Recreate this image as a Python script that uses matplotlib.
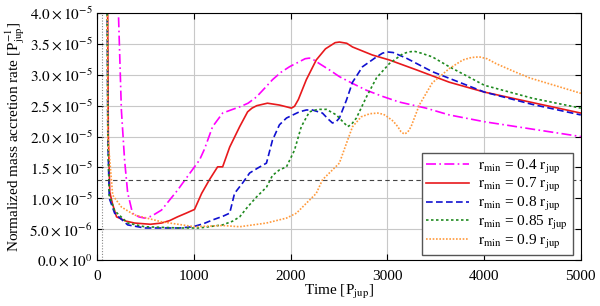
import math

import matplotlib
matplotlib.use("Agg")
import matplotlib.pyplot as plt
from matplotlib.ticker import FuncFormatter

plt.rcParams["font.family"] = "Liberation Serif"
plt.rcParams["mathtext.fontset"] = "stix"

# values in units of 1e-5, time in P_jup
t_04 = [200, 250, 283, 315, 365, 430, 490, 560, 665, 830, 955, 1058, 1110, 1193, 1297,
        1400, 1473, 1560, 1646, 1730, 1812, 1900, 1988, 2100, 2150, 2194, 2240, 2298,
        2400, 2504, 2640, 2783, 2950, 3120, 3400, 3640, 4003, 4500, 5000]
r_04 = [5.0, 2.43, 1.62, 1.09, 0.76, 0.70, 0.68, 0.71, 0.81, 1.13, 1.40, 1.62, 1.80, 2.16, 2.38,
        2.44, 2.48, 2.54, 2.64, 2.78, 2.92, 3.04, 3.13, 3.22, 3.26, 3.27, 3.24, 3.18,
        3.08, 2.97, 2.86, 2.75, 2.65, 2.56, 2.46, 2.35, 2.24, 2.12, 2.00]

t_07 = [105, 115, 130, 160, 200, 300, 386, 550, 665, 750, 830, 920, 1006, 1080, 1160, 1245,
        1297, 1370, 1473, 1555, 1600, 1650, 1760, 1884, 1960, 2008, 2040, 2080, 2162, 2265,
        2360, 2420, 2460, 2504, 2580, 2640, 2845, 3020, 3300, 3640, 4003, 4500, 5000]
r_07 = [5.0, 2.0, 1.1, 0.90, 0.70, 0.63, 0.60, 0.58, 0.60, 0.64, 0.70, 0.76, 0.82, 1.08, 1.30,
        1.51, 1.51, 1.83, 2.16, 2.40, 2.46, 2.50, 2.54, 2.51, 2.48, 2.46, 2.49, 2.60, 2.92,
        3.24, 3.42, 3.48, 3.52, 3.53, 3.51, 3.45, 3.32, 3.24, 3.08, 2.88, 2.72, 2.55, 2.38]

t_08 = [100, 110, 125, 180, 315, 490, 853, 990, 1100, 1193, 1300, 1370, 1420, 1504, 1576,
        1660, 1750, 1812, 1884, 1957, 2090, 2162, 2225, 2329, 2390, 2432, 2470, 2504, 2577,
        2640, 2743, 2888, 2950, 3000, 3060, 3195, 3465, 4003, 4500, 5000]
r_08 = [5.0, 2.0, 1.0, 0.76, 0.57, 0.52, 0.52, 0.54, 0.59, 0.65, 0.71, 0.76, 1.08, 1.25, 1.41,
        1.49, 1.57, 1.94, 2.19, 2.30, 2.40, 2.43, 2.43, 2.38, 2.28, 2.22, 2.24, 2.30, 2.59,
        2.88, 3.13, 3.29, 3.35, 3.37, 3.36, 3.27, 3.05, 2.72, 2.52, 2.35]

t_085 = [100, 110, 125, 180, 315, 490, 853, 1058, 1297, 1400, 1473, 1555, 1646, 1750, 1812,
         1884, 1957, 2040, 2110, 2194, 2280, 2370, 2473, 2540, 2590, 2630, 2680, 2783, 2888,
         3020, 3160, 3220, 3280, 3350, 3465, 3640, 4003, 4500, 5000]
r_085 = [5.0, 2.0, 1.05, 0.80, 0.60, 0.54, 0.52, 0.52, 0.57, 0.63, 0.70, 0.86, 1.02, 1.18, 1.37,
         1.46, 1.51, 1.78, 2.16, 2.40, 2.44, 2.44, 2.35, 2.24, 2.16, 2.20, 2.30, 2.64, 2.95,
         3.18, 3.34, 3.37, 3.38, 3.35, 3.29, 3.13, 2.83, 2.62, 2.46]

t_09 = [100, 110, 160, 250, 386, 665, 1006, 1297, 1473, 1750, 1957, 2060, 2162, 2265, 2329,
        2400, 2504, 2577, 2640, 2730, 2820, 2900, 2960, 3000, 3060, 3108, 3140, 3175, 3210,
        3245, 3330, 3465, 3640, 3780, 3870, 3950, 4030, 4125, 4300, 4470, 4810, 5000]
r_09 = [5.0, 2.0, 1.05, 0.86, 0.73, 0.62, 0.54, 0.56, 0.54, 0.60, 0.68, 0.76, 0.92, 1.08, 1.30,
        1.41, 1.57, 1.89, 2.16, 2.32, 2.37, 2.38, 2.36, 2.32, 2.25, 2.16, 2.08, 2.04, 2.07,
        2.16, 2.51, 2.87, 3.10, 3.24, 3.28, 3.29, 3.26, 3.18, 3.06, 2.95, 2.79, 2.70]

series = [
    (t_04, r_04, r"$\mathrm{r_{min}}$ = 0.4 $\mathrm{r_{jup}}$", "#ff00ff", (0, (6, 2, 1, 2))),
    (t_07, r_07, r"$\mathrm{r_{min}}$ = 0.7 $\mathrm{r_{jup}}$", "#e8191c", "-"),
    (t_08, r_08, r"$\mathrm{r_{min}}$ = 0.8 $\mathrm{r_{jup}}$", "#1010d0", (0, (4, 2))),
    (t_085, r_085, r"$\mathrm{r_{min}}$ = 0.85 $\mathrm{r_{jup}}$", "#1f8a1f", (0, (1.5, 1.5))),
    (t_09, r_09, r"$\mathrm{r_{min}}$ = 0.9 $\mathrm{r_{jup}}$", "#ff9a3c", (0, (1, 1))),
]

threshold = 1.3
t_start = 50

fig = plt.figure(figsize=(6, 3.06), dpi=100)
ax = fig.add_axes([0.162, 0.150, 0.806, 0.8075])

for t, r, lab, c, ls in series:
    ax.plot(t, [v * 1e-5 for v in r], color=c, ls=ls, lw=1.2, label=lab,
            solid_joinstyle="round", dash_joinstyle="round")

ax.axhline(threshold * 1e-5, color="#444444", ls=(0, (4, 3)), lw=0.8)
ax.axvline(t_start, color="#888888", ls=(0, (1, 1.5)), lw=0.8)

ax.set_xlim(0, 5000)
ax.set_ylim(0, 4e-5)
ax.set_xticks(range(0, 5001, 1000))
ax.set_yticks([i * 0.5e-5 for i in range(9)])


def fmt(v, pos):
    if v == 0:
        return r"$0.0\times10^{0}$"
    e = int(math.floor(math.log10(abs(v)) + 1e-9))
    m = v / 10 ** e
    return r"$%.1f\times10^{%d}$" % (m, e)


ax.yaxis.set_major_formatter(FuncFormatter(fmt))
ax.tick_params(direction="in", top=True, right=True, labelsize=11, length=4)
ax.tick_params(axis="x", pad=7)
ax.grid(True, color="#c8c8c8", lw=0.8)
ax.set_axisbelow(True)

ax.set_xlabel(r"Time [P$_{\mathrm{jup}}$]", fontsize=11, labelpad=0)
ax.set_ylabel(r"Normalized mass accretion rate [P$_{\mathrm{jup}}^{-1}$]", fontsize=11, labelpad=2)

leg = ax.legend(loc="lower right", bbox_to_anchor=(0.983, 0.02), borderaxespad=0,
                fontsize=11, fancybox=False, framealpha=1, edgecolor="#555555",
                handlelength=2.8, labelspacing=0.05, borderpad=0.3, handletextpad=0.6)
leg.get_frame().set_linewidth(1.0)

fig.savefig("out.png", dpi=100)
